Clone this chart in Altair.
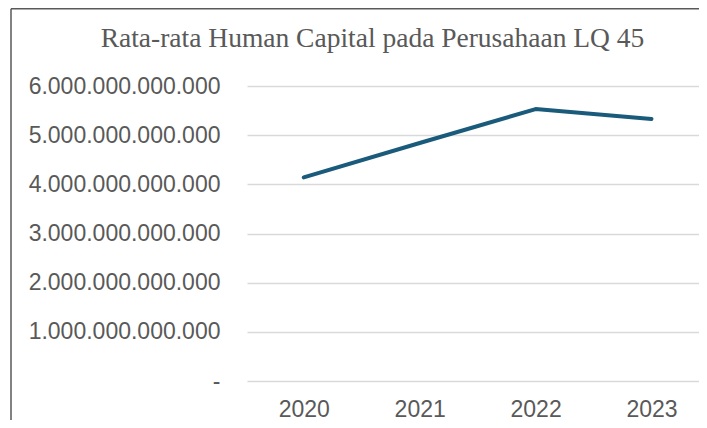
import altair as alt
import pandas as pd

years = [2020, 2021, 2022, 2023]
human_capital = [4.14e12, 4.84e12, 5.53e12, 5.33e12]
y_ticks = [0, 1e12, 2e12, 3e12, 4e12, 5e12, 6e12]

df = pd.DataFrame({"Tahun": years, "Nilai": human_capital})

W, H = 452, 295
LEFT, TOP = 239, 78

line = alt.Chart(df).mark_line(
    color="#1a5b7b", strokeWidth=4, strokeCap="round", strokeJoin="round"
).encode(
    x=alt.X("Tahun:Q",
            scale=alt.Scale(domain=[2019.51, 2023.41], nice=False, zero=False),
            axis=alt.Axis(title=None, values=years, format="d", labelAngle=0,
                          ticks=False, domain=False, grid=False,
                          labelFontSize=23, labelFont="Liberation Sans",
                          labelColor="#595959", labelPadding=17)),
    y=alt.Y("Nilai:Q",
            scale=alt.Scale(domain=[0, 6e12], nice=False, zero=True),
            axis=alt.Axis(title=None, values=y_ticks, ticks=False, domain=False,
                          grid=True, gridColor="#d9d9d9", gridWidth=1.5,
                          labelFontSize=23, labelFont="Liberation Sans",
                          labelColor="#595959", labelPadding=27, labelLimit=0,
                          labelExpr="datum.value == 0 ? '-' : replace(format(datum.value, ',.0f'), regexp(',', 'g'), '.')")),
)

frame_df = pd.DataFrame({"k": [0]})
left_border = alt.Chart(frame_df).mark_rule(color="#595959", strokeWidth=1.5).encode(
    x=alt.value(3 - LEFT), y=alt.value(0.75 - TOP), y2=alt.value(H + 60)
)
top_border = alt.Chart(frame_df).mark_rule(color="#595959", strokeWidth=1.5).encode(
    x=alt.value(3 - LEFT), x2=alt.value(W), y=alt.value(0.75 - TOP)
)

chart = alt.layer(line, left_border, top_border).properties(
    width=W, height=H,
    background="white",
    title=alt.TitleParams(
        "Rata-rata Human Capital pada Perusahaan LQ 45",
        font="Liberation Serif", fontSize=27.5, fontWeight="normal",
        color="#595959", anchor="middle", dx=-100.5, offset=0,
        baseline="alphabetic", dy=66,
    ),
    autosize=alt.AutoSizeParams(type="none"),
    padding={"left": LEFT, "top": TOP, "right": 0, "bottom": 39},
).configure_view(stroke=None)

chart.save("out.html", embed_options={"renderer": "svg", "actions": False})
